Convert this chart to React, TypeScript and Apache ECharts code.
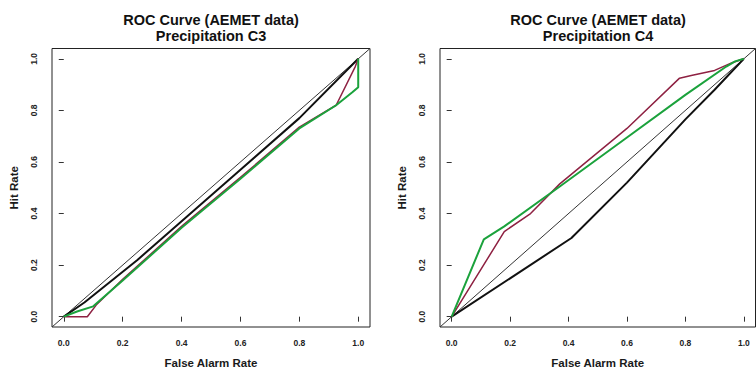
import React, { useEffect, useRef } from "react";
import * as echarts from "echarts";

// Axis ticks
const tickValues = [0, 0.2, 0.4, 0.6, 0.8, 1.0];
const diagonalX = [-0.04, 1.04];
const diagonalY = [-0.04, 1.04];

// Panel titles
const titleLine1 = "ROC Curve (AEMET data)";
const panelNames = ["Precipitation C3", "Precipitation C4"];

// Precipitation C3
const c3BlackFar = [0, 0.07, 0.25, 0.6, 0.8, 1];
const c3BlackHit = [0, 0.055, 0.22, 0.57, 0.77, 1];
const c3RedFar = [0, 0.08, 0.11, 0.2, 0.4, 0.6, 0.8, 0.925, 0.99, 1];
const c3RedHit = [0, 0, 0.045, 0.145, 0.35, 0.54, 0.735, 0.82, 0.97, 1];
const c3GreenFar = [0, 0.045, 0.1, 0.2, 0.4, 0.6, 0.8, 0.925, 0.98, 1, 1];
const c3GreenHit = [0, 0.02, 0.04, 0.14, 0.345, 0.535, 0.73, 0.82, 0.87, 0.89, 1];

// Precipitation C4
const c4BlackFar = [0, 0.41, 0.6, 0.8, 0.9, 0.95, 1];
const c4BlackHit = [0, 0.305, 0.52, 0.765, 0.88, 0.94, 1];
const c4RedFar = [0, 0.18, 0.27, 0.37, 0.6, 0.78, 0.82, 0.9, 0.96, 1];
const c4RedHit = [0, 0.33, 0.4, 0.515, 0.73, 0.925, 0.935, 0.955, 0.985, 1];
const c4GreenFar = [0, 0.11, 0.18, 0.37, 0.6, 0.8, 0.94, 0.97, 1];
const c4GreenHit = [0, 0.3, 0.35, 0.505, 0.695, 0.86, 0.97, 0.99, 1];

const FONT = '"Liberation Sans", Arial, Helvetica, sans-serif';
const RED = "#8e2142";
const GREEN = "#1ba23c";
const BLACK = "#111111";

const zip = (xs: number[], ys: number[]) => xs.map((x, i) => [x, ys[i]]);

export default function App() {
  const ref = useRef<HTMLDivElement>(null);

  useEffect(() => {
    if (!ref.current) return;
    const chart = echarts.init(ref.current, null, { renderer: "svg" });

    const grids = [
      { left: 52, top: 48.5, width: 318, height: 283 },
      { left: 440, top: 48.5, width: 315.5, height: 283 },
    ];

    const xAxis = grids.map((_, i) => ({
      type: "value",
      gridIndex: i,
      min: -0.04,
      max: 1.04,
      name: "False Alarm Rate",
      nameLocation: "middle",
      nameGap: 30,
      nameTextStyle: { fontSize: 11.5, fontWeight: "bold", fontFamily: FONT, color: "#1a1a1a" },
      axisLine: { show: false },
      axisTick: {
        show: true,
        customValues: tickValues,
        length: 5,
        lineStyle: { color: "#333", width: 1 },
      },
      axisLabel: {
        customValues: tickValues,
        formatter: (v: number) => v.toFixed(1),
        fontSize: 8.5,
        fontWeight: "bold",
        fontFamily: FONT,
        color: "#222",
        margin: 11,
      },
      splitLine: { show: false },
    }));

    const yAxis = grids.map((_, i) => ({
      type: "value",
      gridIndex: i,
      min: -0.04,
      max: 1.04,
      name: "Hit Rate",
      nameLocation: "middle",
      nameRotate: 90,
      nameGap: 32,
      nameTextStyle: { fontSize: 11.5, fontWeight: "bold", fontFamily: FONT, color: "#1a1a1a" },
      axisLine: { show: false },
      axisTick: {
        show: true,
        customValues: tickValues,
        length: 5,
        lineStyle: { color: "#333", width: 1 },
      },
      axisLabel: {
        customValues: tickValues,
        formatter: (v: number) => v.toFixed(1),
        rotate: 90,
        fontSize: 8.5,
        fontWeight: "bold",
        fontFamily: FONT,
        color: "#222",
        margin: 14,
      },
      splitLine: { show: false },
    }));

    const lineSeries = (
      idx: number,
      name: string,
      data: number[][],
      color: string,
      width: number
    ) => ({
      type: "line",
      name,
      xAxisIndex: idx,
      yAxisIndex: idx,
      data,
      symbol: "none",
      lineStyle: { color, width },
      itemStyle: { color },
      clip: true,
      z: 2,
    });

    const series = [
      lineSeries(0, "C3 diagonal", zip(diagonalX, diagonalY), "#333", 1),
      lineSeries(0, "C3 black", zip(c3BlackFar, c3BlackHit), BLACK, 2),
      lineSeries(0, "C3 red", zip(c3RedFar, c3RedHit), RED, 1.5),
      lineSeries(0, "C3 green", zip(c3GreenFar, c3GreenHit), GREEN, 2),
      lineSeries(1, "C4 diagonal", zip(diagonalX, diagonalY), "#333", 1),
      lineSeries(1, "C4 black", zip(c4BlackFar, c4BlackHit), BLACK, 2),
      lineSeries(1, "C4 red", zip(c4RedFar, c4RedHit), RED, 1.5),
      lineSeries(1, "C4 green", zip(c4GreenFar, c4GreenHit), GREEN, 2),
    ];

    const centers = [211, 598];
    const graphic: any[] = [];
    centers.forEach((cx, i) => {
      graphic.push({
        type: "text",
        x: cx,
        y: 20,
        style: {
          text: titleLine1,
          fontSize: 14.5,
          fontWeight: "bold",
          fontFamily: FONT,
          fill: "#111",
          align: "center",
          verticalAlign: "middle",
        },
      });
      graphic.push({
        type: "text",
        x: cx,
        y: 35.5,
        style: {
          text: panelNames[i],
          fontSize: 14.5,
          fontWeight: "bold",
          fontFamily: FONT,
          fill: "#111",
          align: "center",
          verticalAlign: "middle",
        },
      });
    });

    chart.setOption({
      animation: false,
      backgroundColor: "#ffffff",
      grid: grids.map((g) => ({
        ...g,
        show: true,
        borderColor: "#222",
        borderWidth: 1,
        backgroundColor: "transparent",
        containLabel: false,
      })),
      xAxis,
      yAxis,
      series,
      graphic,
    });

    return () => chart.dispose();
  }, []);

  return (
    <div
      ref={ref}
      style={{
        position: "absolute",
        left: 0,
        top: 0,
        width: 756,
        height: 374,
        background: "#fff",
      }}
    />
  );
}
